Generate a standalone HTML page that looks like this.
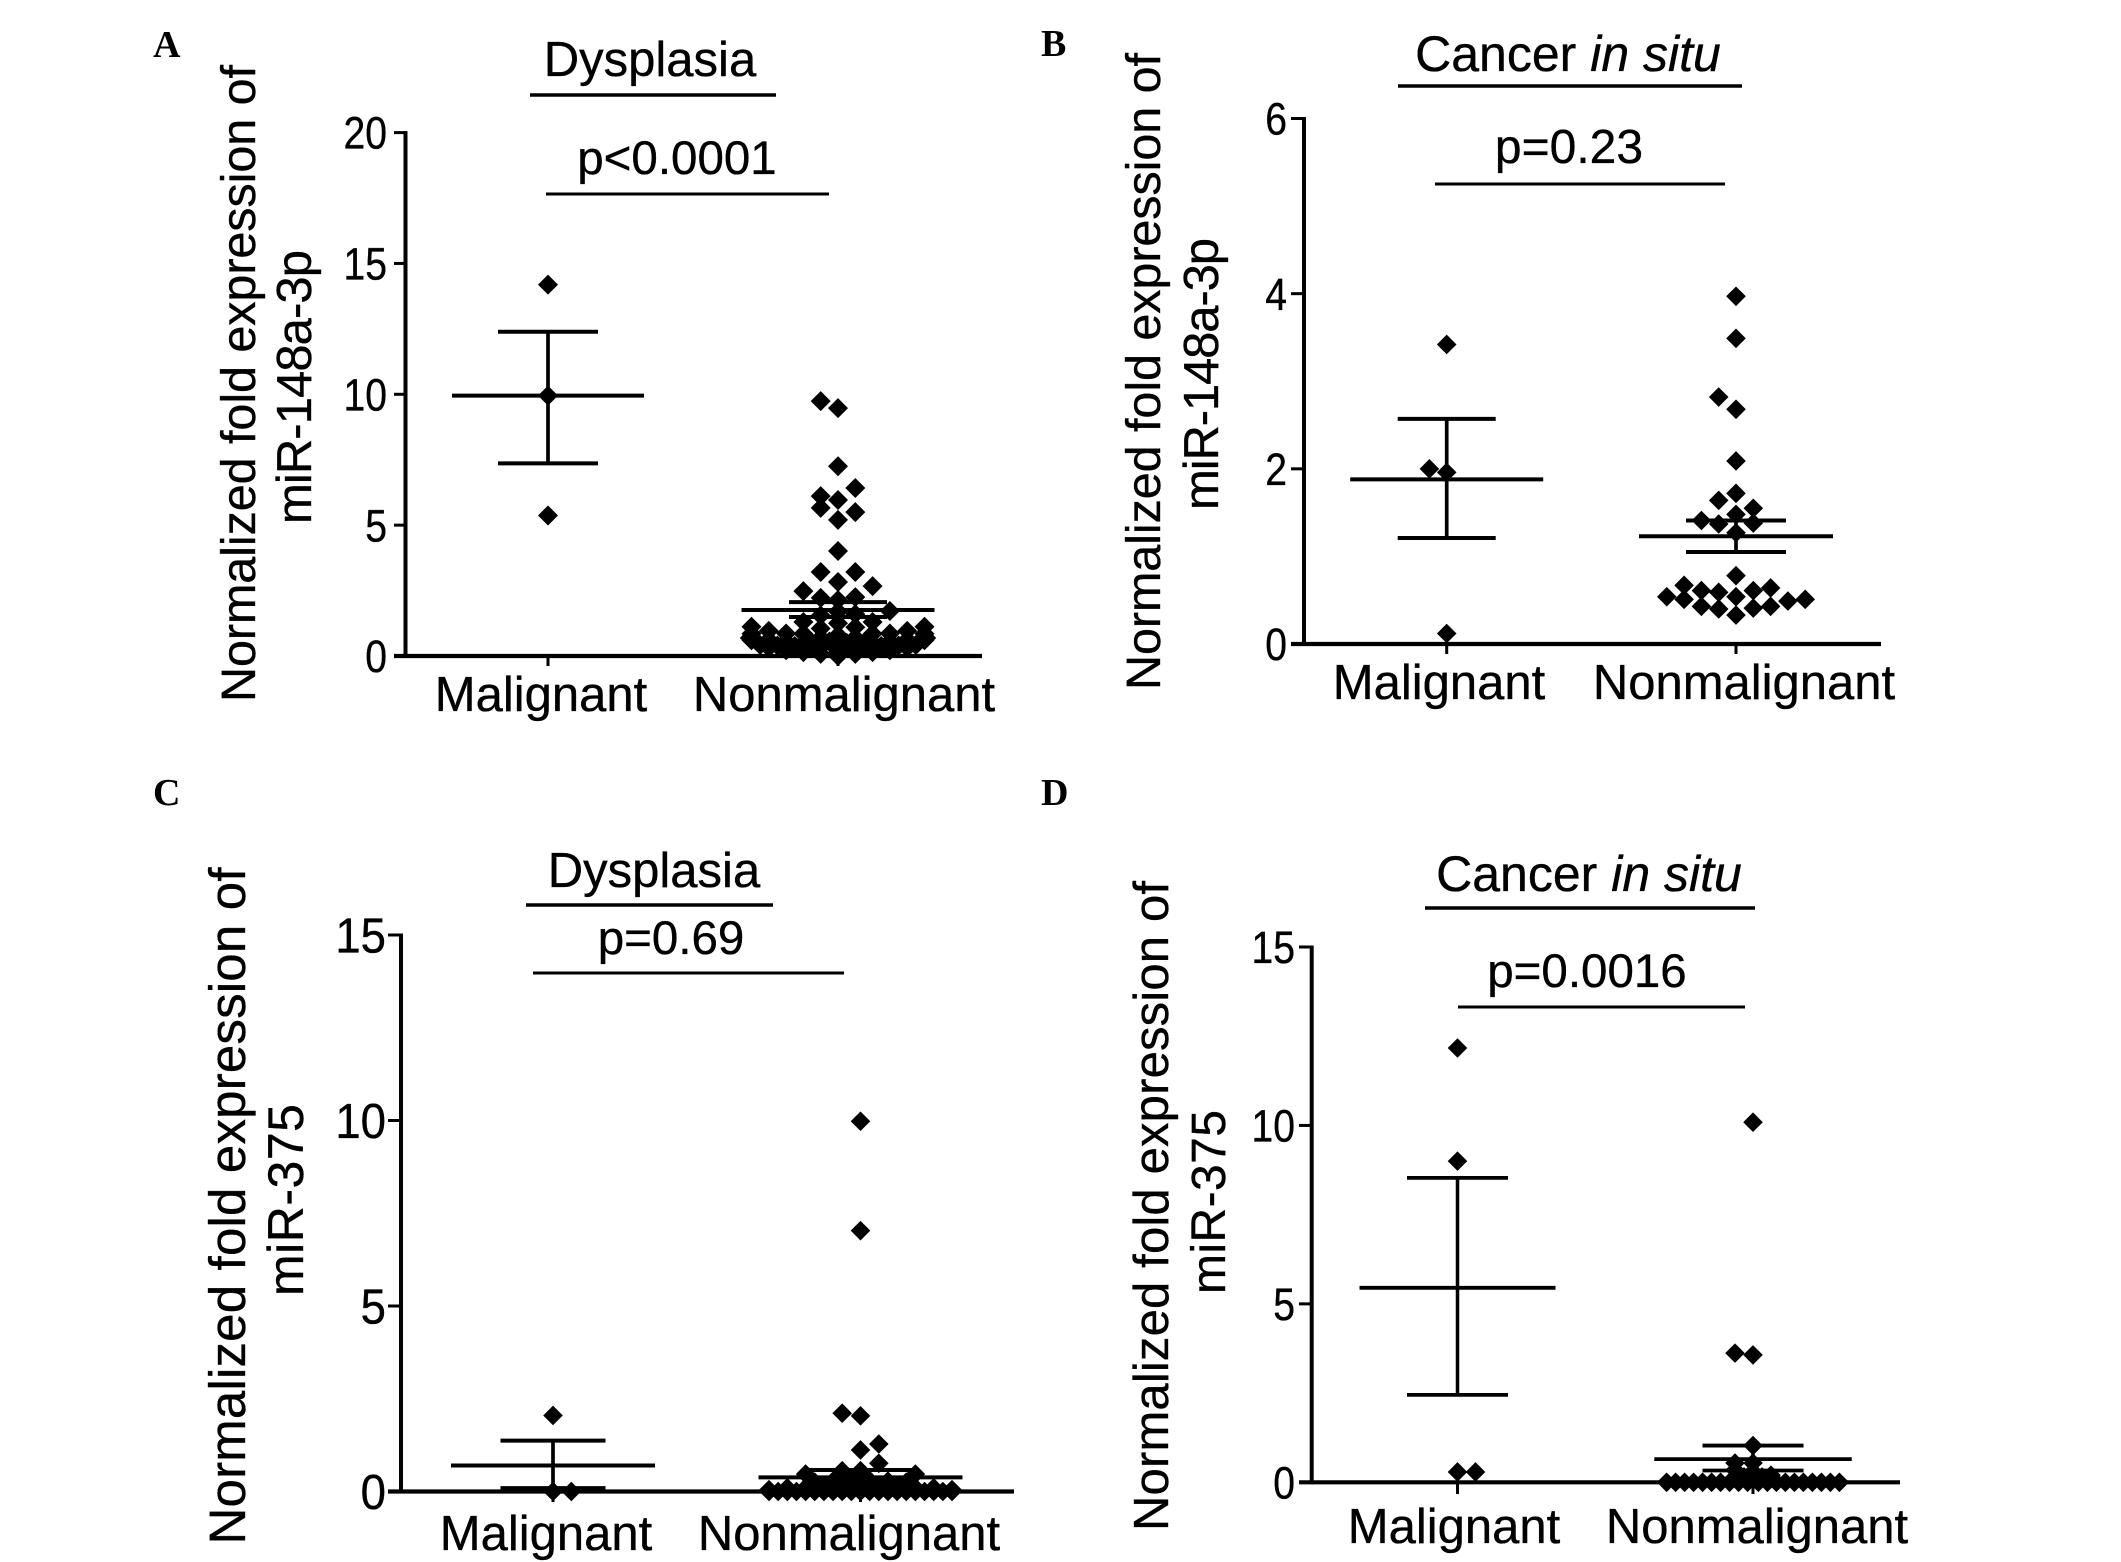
<!DOCTYPE html>
<html lang="en">
<head>
<meta charset="utf-8">
<title>miR-148a-3p and miR-375 expression</title>
<style>
html,body{margin:0;padding:0;background:#fff;}
svg{display:block;}
text{font-family:"Liberation Sans",Arial,sans-serif;fill:#000;stroke:#000;stroke-width:0.35px;}
.letter{font-family:"Liberation Serif","Times New Roman",serif;font-weight:700;font-size:38px;stroke:none;}
</style>
</head>
<body>
<svg id="figure" xmlns="http://www.w3.org/2000/svg" width="2121" height="1562" viewBox="0 0 2121 1562">
  <rect x="0" y="0" width="2121" height="1562" fill="#fff"/>

  <g id="panel-a">
    <text class="letter" x="153" y="57">A</text>
    <text x="650" y="76" font-size="49" text-anchor="middle">Dysplasia</text>
    <line x1="530" x2="776" y1="95" y2="95" stroke="#000" stroke-width="3.5"/>
    <text x="677" y="174" font-size="47.5" text-anchor="middle">p&lt;0.0001</text>
    <line x1="546" x2="829" y1="194" y2="194" stroke="#000" stroke-width="3"/>
    <text transform="translate(255,383.5) rotate(-90)" font-size="48.5" text-anchor="middle" textLength="637">Normalized fold expression of</text>
    <text transform="translate(311,387) rotate(-90)" font-size="49" text-anchor="middle" textLength="274">miR-148a-3p</text>
    <text x="541" y="711" font-size="49" text-anchor="middle">Malignant</text>
    <text x="844" y="711" font-size="49" text-anchor="middle">Nonmalignant</text>
  </g>

  <g id="panel-b">
    <text class="letter" x="1041" y="56">B</text>
    <text x="1568" y="71" font-size="50" text-anchor="middle">Cancer <tspan font-style="italic">in situ</tspan></text>
    <line x1="1398" x2="1742" y1="86" y2="86" stroke="#000" stroke-width="3.5"/>
    <text x="1569" y="163" font-size="48" text-anchor="middle">p=0.23</text>
    <line x1="1435" x2="1725" y1="184" y2="184" stroke="#000" stroke-width="3"/>
    <text transform="translate(1160,371.5) rotate(-90)" font-size="48.5" text-anchor="middle" textLength="637">Normalized fold expression of</text>
    <text transform="translate(1218,374) rotate(-90)" font-size="49" text-anchor="middle" textLength="272">miR-148a-3p</text>
    <text x="1439" y="699" font-size="49" text-anchor="middle">Malignant</text>
    <text x="1744" y="699" font-size="49" text-anchor="middle">Nonmalignant</text>
  </g>

  <g id="panel-c">
    <text class="letter" x="153" y="805">C</text>
    <text x="654" y="887" font-size="49" text-anchor="middle">Dysplasia</text>
    <line x1="526" x2="773" y1="905" y2="905" stroke="#000" stroke-width="3.5"/>
    <text x="671" y="954" font-size="47.5" text-anchor="middle">p=0.69</text>
    <line x1="533" x2="844" y1="973" y2="973" stroke="#000" stroke-width="3"/>
    <text transform="translate(245,1206) rotate(-90)" font-size="51" text-anchor="middle" textLength="677">Normalized fold expression of</text>
    <text transform="translate(303,1200) rotate(-90)" font-size="50" text-anchor="middle" textLength="192">miR-375</text>
    <text x="546" y="1550" font-size="49" text-anchor="middle">Malignant</text>
    <text x="849" y="1550" font-size="49" text-anchor="middle">Nonmalignant</text>
  </g>

  <g id="panel-d">
    <text class="letter" x="1041" y="805">D</text>
    <text x="1589" y="891" font-size="50" text-anchor="middle">Cancer <tspan font-style="italic">in situ</tspan></text>
    <line x1="1425" x2="1755" y1="908" y2="908" stroke="#000" stroke-width="3.5"/>
    <text x="1587" y="987" font-size="47.5" text-anchor="middle">p=0.0016</text>
    <line x1="1458" x2="1745" y1="1007" y2="1007" stroke="#000" stroke-width="3"/>
    <text transform="translate(1168,1206) rotate(-90)" font-size="49" text-anchor="middle" textLength="650">Normalized fold expression of</text>
    <text transform="translate(1225,1202) rotate(-90)" font-size="48" text-anchor="middle" textLength="184">miR-375</text>
    <text x="1454" y="1543" font-size="49" text-anchor="middle">Malignant</text>
    <text x="1757" y="1543" font-size="49" text-anchor="middle">Nonmalignant</text>
  </g>
</svg>

<script>
/* ---------- Panel A data ---------- */
const ticksA = [0, 5, 10, 15, 20];
const malOffsetA = [0, 0, 0];
const malValueA = [14.19, 9.95, 5.37];
const malSummaryA = [9.95, 12.39, 7.36];
const nonOffsetA = [-1, 0, 0, 1, -1, 0, -1, 1, 0, 0, -1, 1, 0, -2, 2, -1, 0, 1, 3,
  -5, -5, -5, -5.1, -4, -4, -4, -3, -3, -3, -2, -2, -2, -2,
  -1, -1, -1, -1, -1, 0, 0, 0, 0, 0, 0,
  1, 1, 1, 1, 1, 2, 2, 2, 2, 3, 3, 3, 4, 4, 4, 5, 5, 5, 5.1,
  -4.5, -3.5, -2.5, -1.5, -0.5, 0.5, 1.5, 2.5, 3.5, 4.5];
const nonValueA = [9.74, 9.47, 7.25, 6.42, 6.11, 5.96, 5.66, 5.5, 5.2, 4.01, 3.21, 3.21, 2.83, 2.48, 2.67, 2.22, 2.14, 2.25, 1.72,
  1.12, 0.85, 0.6, 0.69, 0.96, 0.62, 0.32, 0.86, 0.55, 0.22, 1.3, 0.85, 0.5, 0.15,
  1.55, 1.05, 0.7, 0.35, 0.08, 1.7, 1.25, 0.8, 0.45, 0.15, 0.0,
  1.6, 1.1, 0.7, 0.35, 0.08, 1.3, 0.85, 0.5, 0.15, 0.86, 0.55, 0.22, 0.96, 0.62, 0.32, 1.12, 0.85, 0.6, 0.69,
  0.42, 0.4, 0.38, 0.5, 0.55, 0.5, 0.5, 0.38, 0.4, 0.42];
const nonSummaryA = [1.76, 2.06, 1.49];

/* ---------- Panel B data ---------- */
const ticksB = [0, 2, 4, 6];
const malOffsetB = [0, -1, 0, 0];
const malValueB = [3.42, 2.0, 1.96, 0.12];
const malSummaryB = [1.88, 2.57, 1.21];
const nonOffsetB = [0, 0, -1, 0, 0, 0, -1, 1, 0, -2, -1, 1, 0, 0, -3, -2, -1, 1, 2, -4, -3, 0, 3, 4, -2, -1, 1, 2, 0];
const nonValueB = [3.97, 3.49, 2.82, 2.68, 2.09, 1.72, 1.64, 1.55, 1.48, 1.41, 1.37, 1.38, 1.27, 0.78, 0.67, 0.61, 0.59, 0.61, 0.64, 0.54, 0.51, 0.54, 0.49, 0.51, 0.43, 0.4, 0.41, 0.43, 0.33];
const nonSummaryB = [1.23, 1.41, 1.05];

/* ---------- Panel C data ---------- */
const ticksC = [0, 5, 10, 15];
const malOffsetC = [0, 0, 1];
const malValueC = [2.05, 0, 0];
const malSummaryC = [0.70, 1.37, 0.09];
const nonOffsetC = [0, 0, -1, 0, 0, 1, 1, -3, -1, 0, 3,
  -5, -4.5, -4, -3.5, -3, -2.5, -2, -1.5, -1, -0.5, 0, 0.5, 1, 1.5, 2, 2.5, 3, 3.5, 4, 4.5, 5,
  -4, -3, -2, -1, 0, 1, 2, 3, 4, -5, 5,
  -2.5, -1.5, -0.5, 0.5, 1.5, 2.5];
const nonValueC = [9.98, 7.03, 2.11, 2.04, 1.12, 1.28, 0.76, 0.47, 0.56, 0.56, 0.47,
  0, 0, 0, 0, 0, 0, 0, 0, 0, 0, 0, 0, 0, 0, 0, 0, 0, 0, 0, 0, 0,
  0.1, 0.1, 0.12, 0.15, 0.15, 0.15, 0.12, 0.1, 0.1, 0.05, 0.05,
  0.25, 0.28, 0.3, 0.3, 0.28, 0.25];
const nonSummaryC = [0.38, 0.58, 0.28];

/* ---------- Panel D data ---------- */
const ticksD = [0, 5, 10, 15];
const malOffsetD = [0, 0, 0, 1];
const malValueD = [12.17, 9.0, 0.29, 0.29];
const malSummaryD = [5.45, 8.53, 2.45];
const nonOffsetD = [0, -1, 0, 0, -1, 0, -1, 0, 1,
  -4.8, -4.3, -3.8, -3.3, -2.8, -2.3, -1.8, -1.3, -0.8, -0.3, 0.3, 0.8, 1.3, 1.8, 2.3, 2.8, 3.3, 3.8, 4.3, 4.8,
  -0.5, 0.5, 1];
const nonValueD = [10.09, 3.62, 3.57, 1.03, 0.54, 0.54, 0.34, 0.3, 0.2,
  0, 0, 0, 0, 0, 0, 0, 0, 0, 0, 0, 0, 0, 0, 0, 0, 0, 0, 0, 0,
  0.15, 0.15, 0.1];
const nonSummaryD = [0.65, 1.03, 0.33];

const SVG_NS = 'http://www.w3.org/2000/svg';

function makeScale(domainMax, bottomPx, topPx) {
  return function (v) { return bottomPx - (v / domainMax) * (bottomPx - topPx); };
}

function addLine(parent, x1, y1, x2, y2, w, name) {
  const el = document.createElementNS(SVG_NS, 'line');
  el.setAttribute('x1', x1);
  el.setAttribute('y1', y1);
  el.setAttribute('x2', x2);
  el.setAttribute('y2', y2);
  el.setAttribute('stroke', '#000');
  el.setAttribute('stroke-width', w);
  
  
  parent.appendChild(el);
}

function addSwarm(parent, cx, step, r, offsets, values, y, name) {
  offsets.forEach(function (off, i) {
    const px = cx + off * step;
    const py = y(values[i]);
    const el = document.createElementNS(SVG_NS, 'polygon');
    el.setAttribute('points', px + ',' + (py - r) + ' ' + (px + r) + ',' + py + ' ' + px + ',' + (py + r) + ' ' + (px - r) + ',' + py);
    el.setAttribute('fill', '#000');
    
    
    parent.appendChild(el);
  });
}

function addSummary(parent, cx, halfMean, halfCap, summary, y, w, name) {
  addLine(parent, cx - halfMean, y(summary[0]), cx + halfMean, y(summary[0]), w, name + '-mean-line');
  addLine(parent, cx - halfCap, y(summary[1]), cx + halfCap, y(summary[1]), w, name + '-upper-cap');
  addLine(parent, cx - halfCap, y(summary[2]), cx + halfCap, y(summary[2]), w, name + '-lower-cap');
  addLine(parent, cx, y(summary[1]), cx, y(summary[2]), w - 0.3, name + '-error-stem');
}

function drawPanel(cfg) {
  const parent = document.getElementById(cfg.id);
  const y = makeScale(cfg.ticks[cfg.ticks.length - 1], cfg.y0, cfg.yTop);

  addSwarm(parent, cfg.malX, cfg.step, cfg.r, cfg.malOffset, cfg.malValue, y, 'malignant-point');
  addSwarm(parent, cfg.nonX, cfg.step, cfg.r, cfg.nonOffset, cfg.nonValue, y, 'nonmalignant-point');

  addLine(parent, cfg.axisX, cfg.yTop - 1.5, cfg.axisX, cfg.y0 + 2, 4, 'y-axis-line');
  addLine(parent, cfg.tickLeft, cfg.y0, cfg.axisEnd, cfg.y0, 4.2, 'x-axis-line');
  addLine(parent, cfg.malX, cfg.y0, cfg.malX, cfg.tickBottom, 3, 'x-tick-malignant');
  addLine(parent, cfg.nonX, cfg.y0, cfg.nonX, cfg.tickBottom, 3, 'x-tick-nonmalignant');

  cfg.ticks.forEach(function (t) {
    if (t !== 0) {
      addLine(parent, cfg.tickLeft, y(t), cfg.axisX, y(t), 3, 'y-tick');
    }
    const text = String(t);
    const label = document.createElementNS(SVG_NS, 'text');
    label.setAttribute('x', cfg.labelRight);
    label.setAttribute('y', y(t) + cfg.tickFont * 0.358);
    label.setAttribute('font-size', cfg.tickFont);
    label.setAttribute('text-anchor', 'end');
    label.setAttribute('textLength', text.length * cfg.tickFont * 0.556 * cfg.tickSquish);
    label.setAttribute('lengthAdjust', 'spacingAndGlyphs');
    
    
    label.textContent = text;
    parent.appendChild(label);
  });

  addSummary(parent, cfg.malX, cfg.halfMean, cfg.halfCap, cfg.malSummary, y, cfg.lineW, 'malignant');
  addSummary(parent, cfg.nonX, cfg.nonHalfMean, cfg.nonHalfCap, cfg.nonSummary, y, cfg.lineW, 'nonmalignant');
}

drawPanel({id:'panel-a', ticks:ticksA, y0:656, yTop:132.6, axisX:405.5, tickLeft:394, axisEnd:982,
  malX:548, nonX:838, tickBottom:666, labelRight:387, tickFont:45, tickSquish:0.87, step:17.3, r:10, lineW:4,
  halfMean:96, halfCap:50, nonHalfMean:96.5, nonHalfCap:49,
  malOffset:malOffsetA, malValue:malValueA, malSummary:malSummaryA,
  nonOffset:nonOffsetA, nonValue:nonValueA, nonSummary:nonSummaryA});

drawPanel({id:'panel-b', ticks:ticksB, y0:644, yTop:118.5, axisX:1304, tickLeft:1291, axisEnd:1881,
  malX:1446.7, nonX:1736, tickBottom:654, labelRight:1287, tickFont:45, tickSquish:0.87, step:17.3, r:9.8, lineW:4,
  halfMean:96.5, halfCap:49, nonHalfMean:97, nonHalfCap:50,
  malOffset:malOffsetB, malValue:malValueB, malSummary:malSummaryB,
  nonOffset:nonOffsetB, nonValue:nonValueB, nonSummary:nonSummaryB});

drawPanel({id:'panel-c', ticks:ticksC, y0:1491.5, yTop:935, axisX:401, tickLeft:388, axisEnd:1014,
  malX:553, nonX:860.5, tickBottom:1502, labelRight:386, tickFont:49, tickSquish:0.93, step:18.3, r:9.8, lineW:4,
  halfMean:102, halfCap:52.5, nonHalfMean:102, nonHalfCap:55,
  malOffset:malOffsetC, malValue:malValueC, malSummary:malSummaryC,
  nonOffset:nonOffsetC, nonValue:nonValueC, nonSummary:nonSummaryC});

drawPanel({id:'panel-d', ticks:ticksD, y0:1482.3, yTop:947, axisX:1311.7, tickLeft:1299, axisEnd:1900,
  malX:1457.5, nonX:1753, tickBottom:1494, labelRight:1295, tickFont:45, tickSquish:0.87, step:18, r:9.8, lineW:3.8,
  halfMean:98, halfCap:50.5, nonHalfMean:98.7, nonHalfCap:50.5,
  malOffset:malOffsetD, malValue:malValueD, malSummary:malSummaryD,
  nonOffset:nonOffsetD, nonValue:nonValueD, nonSummary:nonSummaryD});
</script>
</body>
</html>
